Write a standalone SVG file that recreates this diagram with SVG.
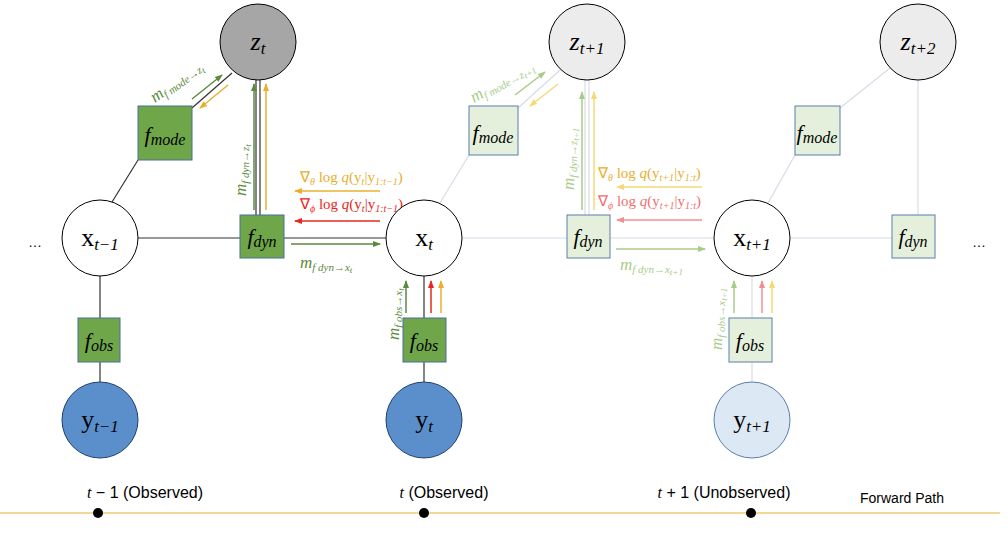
<svg xmlns="http://www.w3.org/2000/svg" width="1008" height="540" viewBox="0 0 1008 540">
<defs>
<style>
.c{stroke:#000;stroke-width:1}
.fd{fill:#70a64a;stroke:#4a6f9a;stroke-width:1}
.fl{fill:#e5f0dc;stroke:#5a7ea8;stroke-width:1}
.m{font-family:"Liberation Serif",serif;font-style:italic}
.lbl{font-family:"Liberation Sans",sans-serif;font-size:16px}
.e{stroke-width:1.5;fill:none}
</style>
<marker id="ag" markerWidth="8" markerHeight="8" refX="7" refY="4" orient="auto" markerUnits="userSpaceOnUse"><path d="M0,1 L8,4 L0,7z" fill="#5b8a3c"/></marker>
<marker id="ao" markerWidth="8" markerHeight="8" refX="7" refY="4" orient="auto" markerUnits="userSpaceOnUse"><path d="M0,1 L8,4 L0,7z" fill="#e8b030"/></marker>
<marker id="ar" markerWidth="8" markerHeight="8" refX="7" refY="4" orient="auto" markerUnits="userSpaceOnUse"><path d="M0,1 L8,4 L0,7z" fill="#e82820"/></marker>
<marker id="lg" markerWidth="8" markerHeight="8" refX="7" refY="4" orient="auto" markerUnits="userSpaceOnUse"><path d="M0,1 L8,4 L0,7z" fill="#a8cc88"/></marker>
<marker id="lo" markerWidth="8" markerHeight="8" refX="7" refY="4" orient="auto" markerUnits="userSpaceOnUse"><path d="M0,1 L8,4 L0,7z" fill="#f5d878"/></marker>
<marker id="lr" markerWidth="8" markerHeight="8" refX="7" refY="4" orient="auto" markerUnits="userSpaceOnUse"><path d="M0,1 L8,4 L0,7z" fill="#f09090"/></marker>
</defs>
<rect width="1008" height="540" fill="#fff"/>
<g id="connectors">
<g stroke="#333" stroke-width="1.2">
<line x1="112" y1="202" x2="138" y2="160"/>
<line x1="192" y1="108" x2="232" y2="73"/>
<line x1="256" y1="80" x2="256" y2="215"/>
<line x1="260" y1="80" x2="260" y2="215"/>
<line x1="138" y1="238" x2="386" y2="238"/>
<line x1="100" y1="276" x2="100" y2="382"/>
<line x1="424" y1="276" x2="424" y2="382"/>
</g>
<g stroke="#d8dce8" stroke-width="1.2">
<line x1="440" y1="203" x2="469" y2="155"/>
<line x1="518" y1="108" x2="560" y2="70"/>
<line x1="585" y1="80" x2="585" y2="215"/>
<line x1="589" y1="80" x2="589" y2="215"/>
<line x1="462" y1="238" x2="714" y2="238"/>
<line x1="790" y1="238" x2="892" y2="238"/>
<line x1="768" y1="203" x2="795" y2="155"/>
<line x1="840" y1="108" x2="890" y2="68"/>
<line x1="918" y1="80" x2="918" y2="215"/>
<line x1="752" y1="276" x2="752" y2="382"/>
</g>
<line x1="0" y1="513" x2="1000" y2="513" stroke="#e8b030" stroke-width="1.2"/>
<line class="e" x1="192" y1="99" x2="222" y2="75" stroke="#5b8a3c" marker-end="url(#ag)"/>
<line class="e" x1="228" y1="85" x2="200" y2="108" stroke="#e8b030" marker-end="url(#ao)"/>
<line class="e" x1="254" y1="210" x2="254" y2="84" stroke="#5b8a3c" marker-end="url(#ag)"/>
<line class="e" x1="266" y1="210" x2="266" y2="84" stroke="#e8b030" marker-end="url(#ao)"/>
<line class="e" x1="380" y1="191" x2="295" y2="191" stroke="#e8b030" marker-end="url(#ao)"/>
<line class="e" x1="380" y1="221" x2="295" y2="221" stroke="#e82820" marker-end="url(#ar)"/>
<line class="e" x1="291" y1="244" x2="380" y2="244" stroke="#5b8a3c" marker-end="url(#ag)"/>
<line class="e" x1="406" y1="313" x2="406" y2="281" stroke="#5b8a3c" marker-end="url(#ag)"/>
<line class="e" x1="431" y1="313" x2="431" y2="281" stroke="#e82820" marker-end="url(#ar)"/>
<line class="e" x1="441" y1="313" x2="441" y2="281" stroke="#e8b030" marker-end="url(#ao)"/>
<line class="e" x1="515" y1="95" x2="545" y2="72" stroke="#a8cc88" marker-end="url(#lg)"/>
<line class="e" x1="558" y1="84" x2="530" y2="106" stroke="#f5d878" marker-end="url(#lo)"/>
<line class="e" x1="582" y1="210" x2="582" y2="92" stroke="#a8cc88" marker-end="url(#lg)"/>
<line class="e" x1="594" y1="210" x2="594" y2="92" stroke="#f5d878" marker-end="url(#lo)"/>
<line class="e" x1="702" y1="187" x2="617" y2="187" stroke="#f5d878" marker-end="url(#lo)"/>
<line class="e" x1="702" y1="220" x2="617" y2="220" stroke="#f09090" marker-end="url(#lr)"/>
<line class="e" x1="616" y1="249" x2="705" y2="249" stroke="#a8cc88" marker-end="url(#lg)"/>
<line class="e" x1="734" y1="313" x2="734" y2="281" stroke="#a8cc88" marker-end="url(#lg)"/>
<line class="e" x1="762" y1="313" x2="762" y2="281" stroke="#f09090" marker-end="url(#lr)"/>
<line class="e" x1="772" y1="313" x2="772" y2="281" stroke="#f5d878" marker-end="url(#lo)"/>
</g>
<g id="msg-labels" class="m" font-size="17">
<text x="155" y="103" fill="#5b8a3c" transform="rotate(-36 155 103)">m<tspan font-size="11" dy="3">f mode→z</tspan><tspan font-size="9" dy="2">t</tspan></text>
<text x="246" y="196" fill="#5b8a3c" transform="rotate(-90 246 196)">m<tspan font-size="11" dy="3">f dyn→z</tspan><tspan font-size="9" dy="2">t</tspan></text>
<text x="300" y="182" fill="#e8b030" font-size="15"><tspan font-style="normal">∇</tspan><tspan font-size="10" dy="3">θ</tspan><tspan dy="-3" font-style="normal"> log </tspan>q<tspan font-style="normal">(y</tspan><tspan font-size="10" dy="3">t</tspan><tspan dy="-3" font-style="normal">|y</tspan><tspan font-size="10" dy="3">1:t−1</tspan><tspan dy="-3" font-style="normal">)</tspan></text>
<text x="300" y="209" fill="#e82820" font-size="15"><tspan font-style="normal">∇</tspan><tspan font-size="10" dy="3">ϕ</tspan><tspan dy="-3" font-style="normal"> log </tspan>q<tspan font-style="normal">(y</tspan><tspan font-size="10" dy="3">t</tspan><tspan dy="-3" font-style="normal">|y</tspan><tspan font-size="10" dy="3">1:t−1</tspan><tspan dy="-3" font-style="normal">)</tspan></text>
<text x="300" y="268" fill="#5b8a3c">m<tspan font-size="11" dy="3">f dyn→x</tspan><tspan font-size="9" dy="2">t</tspan></text>
<text x="399" y="340" fill="#5b8a3c" transform="rotate(-90 399 340)">m<tspan font-size="11" dy="3">f obs→x</tspan><tspan font-size="9" dy="2">t</tspan></text>
<text x="474" y="103" fill="#a8cc88" transform="rotate(-30 474 103)">m<tspan font-size="11" dy="3">f mode→z</tspan><tspan font-size="9" dy="2">t+1</tspan></text>
<text x="574" y="190" fill="#a8cc88" transform="rotate(-90 574 190)">m<tspan font-size="11" dy="3">f dyn→z</tspan><tspan font-size="9" dy="2">t+1</tspan></text>
<text x="598" y="178" fill="#e8b030" font-size="15"><tspan font-style="normal">∇</tspan><tspan font-size="10" dy="3">θ</tspan><tspan dy="-3" font-style="normal"> log </tspan>q<tspan font-style="normal">(y</tspan><tspan font-size="10" dy="3">t+1</tspan><tspan dy="-3" font-style="normal">|y</tspan><tspan font-size="10" dy="3">1:t</tspan><tspan dy="-3" font-style="normal">)</tspan></text>
<text x="598" y="206" fill="#f07070" font-size="15"><tspan font-style="normal">∇</tspan><tspan font-size="10" dy="3">ϕ</tspan><tspan dy="-3" font-style="normal"> log </tspan>q<tspan font-style="normal">(y</tspan><tspan font-size="10" dy="3">t+1</tspan><tspan dy="-3" font-style="normal">|y</tspan><tspan font-size="10" dy="3">1:t</tspan><tspan dy="-3" font-style="normal">)</tspan></text>
<text x="620" y="270" fill="#a8cc88">m<tspan font-size="11" dy="3">f dyn→x</tspan><tspan font-size="9" dy="2">t+1</tspan></text>
<text x="722" y="350" fill="#a8cc88" transform="rotate(-90 722 350)">m<tspan font-size="11" dy="3">f obs→x</tspan><tspan font-size="9" dy="2">t+1</tspan></text>
</g>
<g id="z_t"><circle cx="258" cy="42" r="38" fill="#a6a6a6" class="c"/><text x="258" y="50" text-anchor="middle" class="m" font-size="26">z<tspan font-size="17" dy="4">t</tspan></text></g>
<g id="z_t1"><circle cx="587" cy="42" r="38" fill="#ececec" class="c"/><text x="587" y="50" text-anchor="middle" class="m" font-size="26">z<tspan font-size="17" dy="4">t+1</tspan></text></g>
<g id="z_t2"><circle cx="918" cy="42" r="38" fill="#ececec" class="c"/><text x="918" y="50" text-anchor="middle" class="m" font-size="26">z<tspan font-size="17" dy="4">t+2</tspan></text></g>
<g id="fmode_t"><rect x="138" y="106" width="54" height="54" class="fd"/><text x="165" y="142" text-anchor="middle" class="m" font-size="22">f<tspan font-size="16" dy="3">mode</tspan></text></g>
<g id="fmode_t1"><rect x="469" y="106" width="49" height="49" class="fl"/><text x="493" y="140" text-anchor="middle" class="m" font-size="22">f<tspan font-size="16" dy="3">mode</tspan></text></g>
<g id="fmode_t2"><rect x="795" y="106" width="45" height="49" class="fl"/><text x="817" y="140" text-anchor="middle" class="m" font-size="22">f<tspan font-size="16" dy="3">mode</tspan></text></g>
<g id="x_tm1"><circle cx="100" cy="238" r="38" fill="#fff" class="c"/><text x="100" y="246" text-anchor="middle" font-family="Liberation Serif,serif" font-size="26">x<tspan class="m" font-size="17" dy="4">t−1</tspan></text></g>
<g id="x_t"><circle cx="424" cy="238" r="38" fill="#fff" class="c"/><text x="424" y="246" text-anchor="middle" font-family="Liberation Serif,serif" font-size="26">x<tspan class="m" font-size="17" dy="4">t</tspan></text></g>
<g id="x_t1"><circle cx="752" cy="238" r="38" fill="#fff" class="c"/><text x="752" y="246" text-anchor="middle" font-family="Liberation Serif,serif" font-size="26">x<tspan class="m" font-size="17" dy="4">t+1</tspan></text></g>
<g id="fdyn_t"><rect x="240" y="215" width="44" height="43" class="fd"/><text x="262" y="244" text-anchor="middle" class="m" font-size="22">f<tspan font-size="16" dy="3">dyn</tspan></text></g>
<g id="fdyn_t1"><rect x="567" y="215" width="43" height="43" class="fl"/><text x="588" y="244" text-anchor="middle" class="m" font-size="22">f<tspan font-size="16" dy="3">dyn</tspan></text></g>
<g id="fdyn_t2"><rect x="892" y="215" width="43" height="43" class="fl"/><text x="913" y="244" text-anchor="middle" class="m" font-size="22">f<tspan font-size="16" dy="3">dyn</tspan></text></g>
<g id="fobs_tm1"><rect x="78" y="318" width="42" height="44" class="fd"/><text x="99" y="348" text-anchor="middle" class="m" font-size="22">f<tspan font-size="16" dy="3">obs</tspan></text></g>
<g id="fobs_t"><rect x="403" y="318" width="43" height="44" class="fd"/><text x="424" y="348" text-anchor="middle" class="m" font-size="22">f<tspan font-size="16" dy="3">obs</tspan></text></g>
<g id="fobs_t1"><rect x="729" y="318" width="43" height="44" class="fl"/><text x="750" y="348" text-anchor="middle" class="m" font-size="22">f<tspan font-size="16" dy="3">obs</tspan></text></g>
<g id="y_tm1"><circle cx="100" cy="420" r="38" fill="#5b8fcc" stroke="#1f3f6a"/><text x="100" y="428" text-anchor="middle" font-family="Liberation Serif,serif" font-size="26">y<tspan class="m" font-size="17" dy="4">t−1</tspan></text></g>
<g id="y_t"><circle cx="424" cy="420" r="38" fill="#5b8fcc" stroke="#1f3f6a"/><text x="424" y="428" text-anchor="middle" font-family="Liberation Serif,serif" font-size="26">y<tspan class="m" font-size="17" dy="4">t</tspan></text></g>
<g id="y_t1"><circle cx="752" cy="420" r="38" fill="#dde8f5" stroke="#5a7ea8"/><text x="752" y="428" text-anchor="middle" font-family="Liberation Serif,serif" font-size="26">y<tspan class="m" font-size="17" dy="4">t+1</tspan></text></g>
<g id="labels">
<text x="28" y="247" font-family="Liberation Sans,sans-serif" font-size="14">…</text>
<text x="972" y="247" font-family="Liberation Sans,sans-serif" font-size="14">…</text>
<text x="145" y="498" text-anchor="middle" class="lbl"><tspan font-family="Liberation Serif,serif" font-style="italic">t</tspan> − 1 (Observed)</text>
<text x="444" y="498" text-anchor="middle" class="lbl"><tspan font-family="Liberation Serif,serif" font-style="italic">t</tspan> (Observed)</text>
<text x="724" y="498" text-anchor="middle" class="lbl"><tspan font-family="Liberation Serif,serif" font-style="italic">t</tspan> + 1 (Unobserved)</text>
<text x="860" y="503" font-family="Liberation Sans,sans-serif" font-size="14">Forward Path</text>
<circle cx="98" cy="513" r="5" fill="#000"/>
<circle cx="424" cy="513" r="5" fill="#000"/>
<circle cx="751" cy="513" r="5" fill="#000"/>
</g>
</svg>
